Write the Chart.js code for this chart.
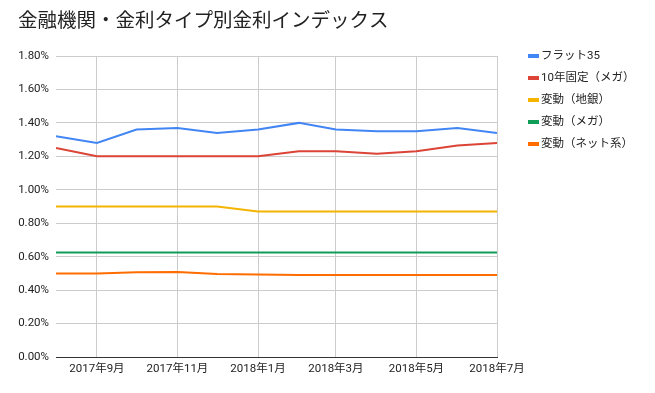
<!DOCTYPE html>
<html lang="ja">
<head>
<meta charset="UTF-8">
<title>金融機関・金利タイプ別金利インデックス</title>
<script src="https://cdn.jsdelivr.net/npm/chart.js"></script>
<style>
  html, body { margin: 0; padding: 0; background: #fff; }
  #wrap { width: 655px; height: 393px; }
</style>
</head>
<body>
<div id="wrap"><canvas id="rateChart"></canvas></div>
<script>
// data points are on the first day of each month
const months = ['2017-08', '2017-09', '2017-10', '2017-11', '2017-12', '2018-01',
                '2018-02', '2018-03', '2018-04', '2018-05', '2018-06', '2018-07'];
const seriesNames = ['フラット35', '10年固定（メガ）', '変動（地銀）', '変動（メガ）', '変動（ネット系）'];
const flat35        = [1.32, 1.28, 1.36, 1.37, 1.34, 1.36, 1.40, 1.36, 1.35, 1.35, 1.37, 1.34];
const fixed10Mega   = [1.25, 1.20, 1.20, 1.20, 1.20, 1.20, 1.23, 1.23, 1.215, 1.23, 1.265, 1.28];
const floatRegional = [0.90, 0.90, 0.90, 0.90, 0.90, 0.87, 0.87, 0.87, 0.87, 0.87, 0.87, 0.87];
const floatMega     = [0.625, 0.625, 0.625, 0.625, 0.625, 0.625, 0.625, 0.625, 0.625, 0.625, 0.625, 0.625];
const floatNet      = [0.50, 0.50, 0.507, 0.508, 0.496, 0.493, 0.49, 0.49, 0.49, 0.49, 0.49, 0.49];
const tickMonths = ['2017-09', '2017-11', '2018-01', '2018-03', '2018-05', '2018-07'];
const tickLabels = ['2017年9月', '2017年11月', '2018年1月', '2018年3月', '2018年5月', '2018年7月'];
const colors = ['#4285F4', '#DB4437', '#F4B400', '#0F9D58', '#FF6D00'];

const FONT = "Roboto, 'Noto Sans CJK JP', sans-serif";

// days since the first month, so the x axis is spaced like a date axis
function dayOf(m) {
    const [y, mo] = m.split('-').map(Number);
    const [y0, mo0] = months[0].split('-').map(Number);
    return (Date.UTC(y, mo - 1, 1) - Date.UTC(y0, mo0 - 1, 1)) / 86400000;
}

const allSeries = [flat35, fixed10Mega, floatRegional, floatMega, floatNet];

// simple legend on the right, next to the plot
const sideLegend = {
    id: 'sideLegend',
    afterDraw(chart) {
        const ctx = chart.ctx;
        const area = chart.chartArea;
        ctx.save();
        ctx.font = '11.5px ' + FONT;
        ctx.textBaseline = 'middle';
        chart.data.datasets.forEach((ds, i) => {
            const y = area.top + i * 22;
            ctx.fillStyle = ds.borderColor;
            ctx.fillRect(area.right + 31, y - 2, 11, 4);
            ctx.fillStyle = '#222';
            ctx.fillText(ds.label, area.right + 44, y + 0.5);
        });
        ctx.restore();
    }
};

new Chart(document.getElementById('rateChart'), {
    type: 'line',
    data: {
        datasets: allSeries.map((vals, i) => ({
            label: seriesNames[i],
            data: months.map((m, j) => ({ x: dayOf(m), y: vals[j] })),
            borderColor: colors[i],
            backgroundColor: colors[i],
            borderWidth: 2,
            pointRadius: 0,
            tension: 0,
            fill: false
        }))
    },
    options: {
        responsive: true,
        maintainAspectRatio: false,
        animation: false,
        layout: { padding: { left: 18, right: 158, top: 0, bottom: 0 } },
        plugins: {
            legend: { display: false },
            tooltip: { enabled: false },
            title: {
                display: true,
                text: '金融機関・金利タイプ別金利インデックス',
                align: 'start',
                color: '#222',
                font: { family: FONT, size: 19.5, weight: 'normal' },
                padding: { top: 10, bottom: 22.6 }
            }
        },
        scales: {
            x: {
                type: 'linear',
                min: dayOf(months[0]),
                max: dayOf(months[months.length - 1]),
                afterBuildTicks: s => { s.ticks = tickMonths.map(m => ({ value: dayOf(m) })); },
                afterFit: s => { s.height = 36; },
                ticks: {
                    autoSkip: false,
                    maxRotation: 0,
                    padding: 5,
                    color: '#222',
                    font: { family: FONT, size: 11.5 },
                    callback: (v, i) => tickLabels[i]
                },
                grid: { color: '#cccccc', drawTicks: false },
                border: { display: true, color: '#333333', width: 1 }
            },
            y: {
                min: 0,
                max: 1.8,
                afterFit: s => { s.width = 38; },
                ticks: {
                    stepSize: 0.2,
                    padding: 7,
                    color: '#222',
                    font: { family: FONT, size: 11.5 },
                    callback: v => v.toFixed(2) + '%'
                },
                grid: { color: '#cccccc', drawTicks: false },
                border: { display: false }
            }
        }
    },
    plugins: [sideLegend]
});
</script>
</body>
</html>
